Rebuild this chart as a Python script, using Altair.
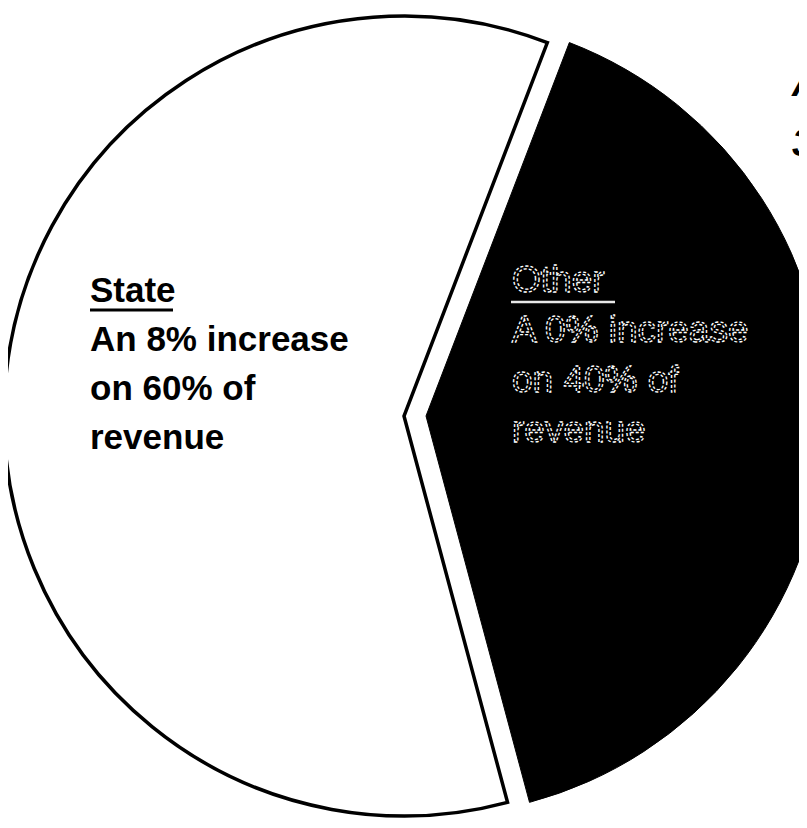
import math
import altair as alt
import pandas as pd

# ---- data ----
categories = ["Other", "State"]
shares = [40, 60]
stack_order = [1, 2]
state_lines = ["State", "An 8% increase", "on 60% of", "revenue"]
other_lines = ["Other", "A 0% increase", "on 40% of", "revenue"]
corner_lines = ["A", "3"]

df = pd.DataFrame({"category": categories, "share": shares, "order": stack_order})
one = pd.DataFrame({"k": [0]})

start = math.radians(21)
theta = alt.Theta("share:Q", stack=True,
                  scale=alt.Scale(domain=[0, 100], range=[start, start + 2 * math.pi]))
order = alt.Order("order:Q")

white = alt.Chart(df).mark_arc(radius=400, stroke="black", strokeWidth=3.5,
                               strokeJoin="miter").encode(
    theta=theta, order=order,
    x=alt.value(396), y=alt.value(408),
    fill=alt.value("white"),
    opacity=alt.condition(alt.datum.category == "State", alt.value(1), alt.value(0)),
)

black = alt.Chart(df).mark_arc(radius=400, stroke="black", strokeWidth=1).encode(
    theta=theta, order=order,
    x=alt.value(418), y=alt.value(408),
    fill=alt.value("black"),
    opacity=alt.condition(alt.datum.category == "Other", alt.value(1), alt.value(0)),
)

state_text = alt.Chart(one).mark_text(
    text=state_lines, align="left", baseline="alphabetic", font="Liberation Sans",
    fontSize=35, fontWeight="bold", lineHeight=49, color="black",
).encode(x=alt.value(82), y=alt.value(294))

state_ul = alt.Chart(one).mark_rule(color="black", strokeWidth=3).encode(
    x=alt.value(82), x2=alt.value(165), y=alt.value(302))

other_text = alt.Chart(one).mark_text(
    text=other_lines, align="left", baseline="alphabetic", font="Liberation Sans",
    fontSize=37, fontWeight="normal", lineHeight=50, color="black",
    stroke="white", strokeWidth=1.3, strokeDash=[3, 2],
).encode(x=alt.value(504), y=alt.value(284))

other_ul = alt.Chart(one).mark_rule(color="#e8e8e8", strokeWidth=2.5).encode(
    x=alt.value(503), x2=alt.value(607), y=alt.value(294))

corner_text = alt.Chart(one).mark_text(
    text=corner_lines, align="left", baseline="alphabetic", font="Liberation Sans",
    fontSize=38, fontWeight="bold", fontStyle="italic", lineHeight=60, color="black",
).encode(x=alt.value(784), y=alt.value(88))

chart = alt.layer(white, black, state_text, state_ul, other_text, other_ul, corner_text).properties(
    width=791, height=812,
    autosize=alt.AutoSizeParams(type="none"),
    padding=0,
).configure_view(stroke=None)

chart.save("out.html", embed_options={"renderer": "svg", "actions": False})
